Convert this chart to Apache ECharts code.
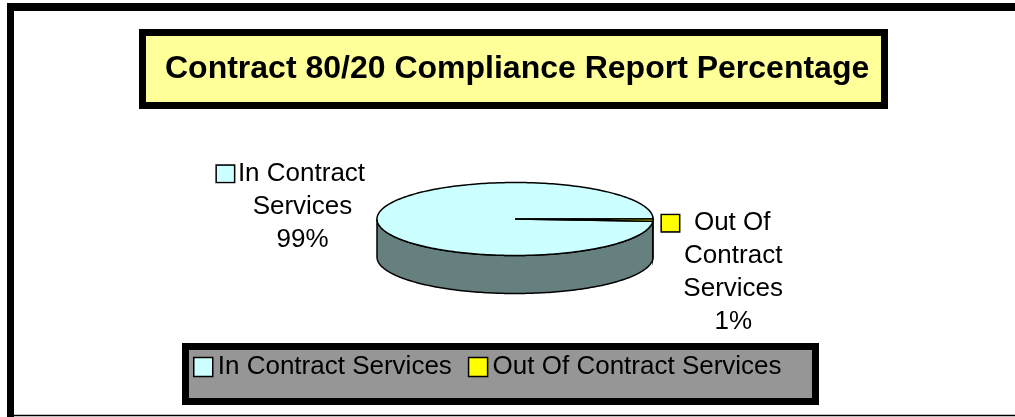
<!DOCTYPE html>
<html lang="en">
<head>
    <meta charset="UTF-8">
    <title>Contract 80/20 Compliance Report Percentage</title>
    <style>
        body, html {
            margin: 0;
            padding: 0;
            background: #fff;
        }

        #container {
            width: 1015px;
            height: 417px;
        }
    </style>
    <script src="https://cdn.jsdelivr.net/npm/echarts@6/dist/echarts.min.js"></script>
</head>
<body>
<div id="container"></div>
<script type="text/javascript">
    var categories = ['In Contract Services', 'Out Of Contract Services'];
    var values = [99, 1];
    var topColors = ['#CCFFFF', '#FFFF00'];
    var sideColors = ['#668080', '#808000'];

    var FONT = '"Liberation Sans", Arial, sans-serif';
    // pie geometry (3d look, Excel style)
    var pie = {cx: 515, cy: 219, rx: 138, ry: 36.5, depth: 38, startAngle: 3.6};

    var total = values.reduce(function (a, b) { return a + b; }, 0);

    function pt(t, dy) {
        return [pie.cx + pie.rx * Math.cos(t), pie.cy + pie.ry * Math.sin(t) + (dy || 0)];
    }

    function arc(a0, a1, dy) {
        var pts = [], n = Math.max(2, Math.ceil(Math.abs(a1 - a0) / 0.02));
        for (var i = 0; i <= n; i++) {
            pts.push(pt(a0 + (a1 - a0) * i / n, dy));
        }
        return pts;
    }

    // split a name into lines no longer than maxChars
    function wrap(name, maxChars) {
        var words = name.split(' '), lines = [], cur = '';
        words.forEach(function (w) {
            if (cur && (cur + ' ' + w).length > maxChars) {
                lines.push(cur);
                cur = w;
            } else {
                cur = cur ? cur + ' ' + w : w;
            }
        });
        lines.push(cur);
        return lines;
    }

    function renderSlice(params, api) {
        var idx = params.seriesIndex;
        var before = 0;
        for (var i = 0; i < idx; i++) before += values[i];
        var val = api.value(0);
        var a0 = (pie.startAngle + before / total * 360) * Math.PI / 180;
        var a1 = a0 + val / total * Math.PI * 2;
        var children = [];

        // front side walls: visible where the arc lies in [0, PI] (+ 2PI wrap)
        [[0, Math.PI], [Math.PI * 2, Math.PI * 3]].forEach(function (r) {
            var s = Math.max(a0, r[0]), e = Math.min(a1, r[1]);
            if (e > s) {
                var top = arc(s, e, 0);
                var bottom = arc(e, s, pie.depth);
                children.push({
                    type: 'polygon',
                    z2: 1,
                    shape: {points: top.concat(bottom)},
                    style: {fill: sideColors[idx], stroke: '#000', lineWidth: 1.5}
                });
            }
        });

        // top face
        children.push({
            type: 'polygon',
            z2: 2,
            shape: {points: [[pie.cx, pie.cy]].concat(arc(a0, a1, 0))},
            style: {fill: topColors[idx], stroke: '#000', lineWidth: 1.5}
        });

        // label with legend key
        var mid = (a0 + a1) / 2;
        var anchor = pt(mid, 0);
        var left = Math.cos(mid) < 0;
        var lines = wrap(categories[idx], left ? 11 : 8);
        var keyW = 19, gapW = left ? 4 : 15;
        var txt = lines.map(function (l, j) {
            return j === 0 ? '{k|}{g|}{t|' + l + '}{p|}' : '{t|' + l + '}';
        });
        txt.push('{t|' + Math.round(val / total * 100) + '%}');
        children.push({
            type: 'text',
            z2: 3,
            style: {
                x: left ? anchor[0] - 12 + keyW + gapW : anchor[0] + 9,
                y: left ? anchor[1] - 11 : anchor[1] - 13.5,
                align: left ? 'right' : 'left',
                verticalAlign: left ? 'middle' : 'top',
                text: txt.join('\n'),
                rich: {
                    t: {fontSize: 26, lineHeight: 33, fontFamily: FONT, fill: '#000', align: 'center'},
                    k: {width: keyW - 2, height: 16, backgroundColor: topColors[idx], borderColor: '#000',
                        borderWidth: 1.5, align: 'center'},
                    g: {width: gapW, align: 'center'},
                    p: {width: keyW + gapW, align: 'center'}
                }
            }
        });

        return {type: 'group', children: children};
    }

    var dom = document.getElementById('container');
    var myChart = echarts.init(dom);

    var series = categories.map(function (name, i) {
        return {
            type: 'custom',
            name: name,
            coordinateSystem: 'none',
            itemStyle: {color: topColors[i]},
            renderItem: renderSlice,
            data: [[values[i]]]
        };
    });

    var option = {
        animation: false,
        title: {
            text: 'Contract 80/20 Compliance Report Percentage',
            left: 165,
            top: 53,
            padding: 0,
            textStyle: {fontSize: 32, fontWeight: 'bold', color: '#000', fontFamily: FONT}
        },
        legend: {
            data: categories,
            left: 193,
            top: 354,
            icon: 'rect',
            itemWidth: 19,
            itemHeight: 19,
            itemGap: 16,
            padding: 0,
            selectedMode: false,
            itemStyle: {borderColor: '#000', borderWidth: 1.5},
            textStyle: {fontSize: 26, color: '#000', fontFamily: FONT, padding: [0, 0, 0, 0]}
        },
        graphic: [
            // outer frame
            {type: 'line', shape: {x1: 10.5, y1: 3, x2: 10.5, y2: 417}, style: {stroke: '#000', lineWidth: 7}},
            {type: 'line', shape: {x1: 7, y1: 7, x2: 1015, y2: 7}, style: {stroke: '#000', lineWidth: 8}},
            {type: 'line', shape: {x1: 7, y1: 415.5, x2: 1015, y2: 415.5}, style: {stroke: '#000', lineWidth: 1.5}},
            // title box
            {type: 'rect', z: -1, shape: {x: 142.5, y: 32.5, width: 742, height: 73},
                style: {fill: '#FFFF99', stroke: '#000', lineWidth: 7}},
            // legend box
            {type: 'rect', z: -1, shape: {x: 185.5, y: 346.5, width: 630, height: 55},
                style: {fill: '#969696', stroke: '#000', lineWidth: 7}}
        ],
        series: series
    };

    myChart.setOption(option);
</script>
</body>
</html>
